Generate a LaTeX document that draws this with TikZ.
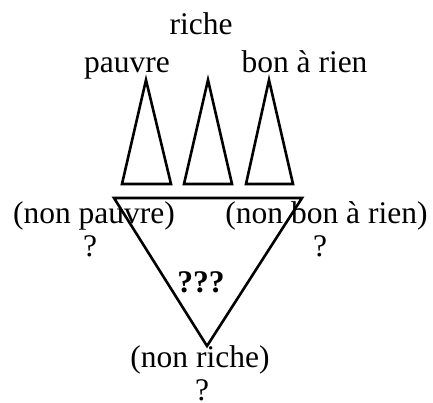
\documentclass[tikz,border=0pt]{standalone}
\usepackage{fontspec}
\setmainfont{Liberation Serif}
\begin{document}
\begin{tikzpicture}[x=1pt,y=-1pt,
  lbl/.style={anchor=base,inner sep=0pt,font=\fontsize{31.5}{37}\selectfont},
  tri/.style={draw=black,line width=2.6pt,line join=miter}]
\useasboundingbox (0,0) rectangle (433,403);
% small triangles
\draw[tri] (146,80) -- (122,184) -- (171,184) -- cycle;
\draw[tri] (208,80) -- (184,184) -- (232,184) -- cycle;
\draw[tri] (269,80) -- (246,184) -- (293,184) -- cycle;
% big triangle
\draw[tri] (114,198) -- (302,198) -- (207,346) -- cycle;
% labels
\node[lbl] (riche) at (201,35) {riche};
\node[lbl] (pauvre) at (127,73) {pauvre};
\node[lbl] (bon) at (304.5,73) {bon à rien};
\node[lbl] (npauvre) at (94,223) {(non pauvre)};
\node[lbl] (q1) at (90,256) {?};
\node[lbl] (nbon) at (326.5,223) {(non bon à rien)};
\node[lbl] (q2) at (320,256) {?};
\node[lbl,font=\fontsize{31.5}{37}\selectfont\bfseries] (qqq) at (201,292) {???};
\node[lbl] (nriche) at (200,367) {(non riche)};
\node[lbl,text depth=0pt] (q3) at (202,400) {?};
\end{tikzpicture}
\end{document}
